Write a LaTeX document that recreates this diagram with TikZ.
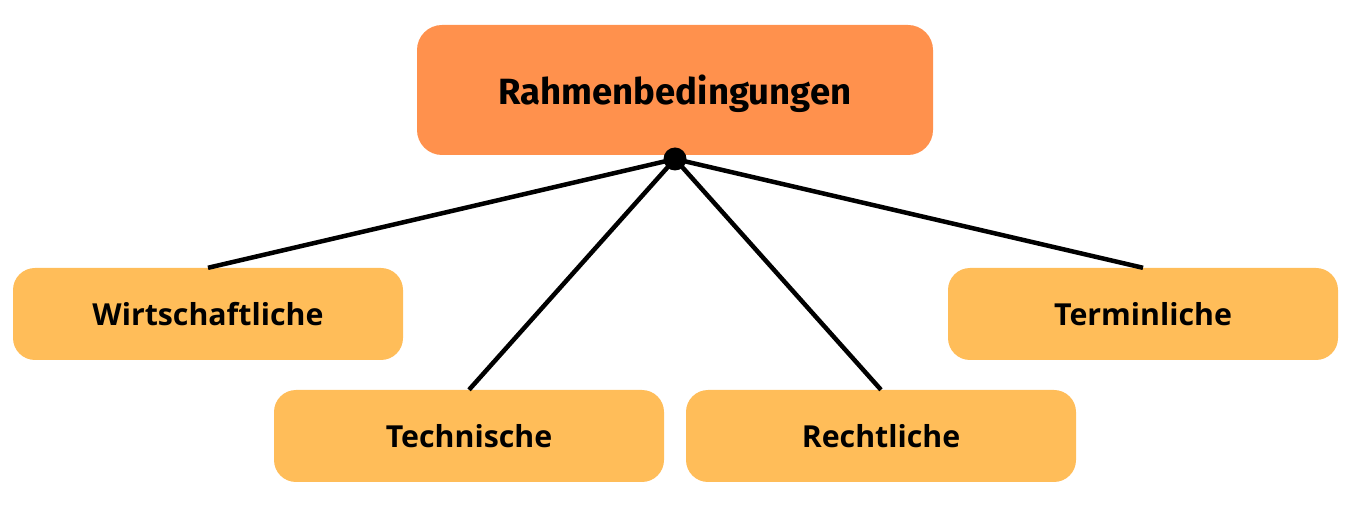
\documentclass[tikz,border=0pt]{standalone}
\usepackage{fontspec}
\setmainfont{Open Sans}
\newfontfamily\topfont{Fira Sans}
\definecolor{toporange}{HTML}{FF914D}
\definecolor{boxyellow}{HTML}{FFBD59}
\begin{document}
\begin{tikzpicture}[x=1pt,y=-1pt,
  topbox/.style={fill=toporange, rounded corners=25pt, minimum width=516pt, minimum height=130pt, inner sep=0pt, font=\topfont\bfseries\fontsize{36.5}{42}\selectfont},
  subbox/.style={fill=boxyellow, rounded corners=22pt, minimum width=390pt, minimum height=92pt, inner sep=0pt, font=\bfseries\fontsize{30.3}{36}\selectfont},
  link/.style={line width=4.5pt, black}]
\useasboundingbox (0,0) rectangle (1350,510);
\node[topbox] (top) at (675,90) {};
\node at (675,94) [font=\topfont\bfseries\fontsize{36.5}{42}\selectfont] (toplabel) {Rahmenbedingungen};
\node[subbox] (w) at (208,314) {Wirtschaftliche};
\node[subbox] (tech) at (469,436) {Technische};
\node[subbox] (r) at (881,436) {Rechtliche};
\node[subbox] (term) at (1143,314) {Terminliche};
\coordinate (hub) at (675,159);
\draw[link] (hub) -- (w.north);
\draw[link] (hub) -- (tech.north);
\draw[link] (hub) -- (r.north);
\draw[link] (hub) -- (term.north);
\fill (hub) circle (11.5pt);
\end{tikzpicture}
\end{document}
